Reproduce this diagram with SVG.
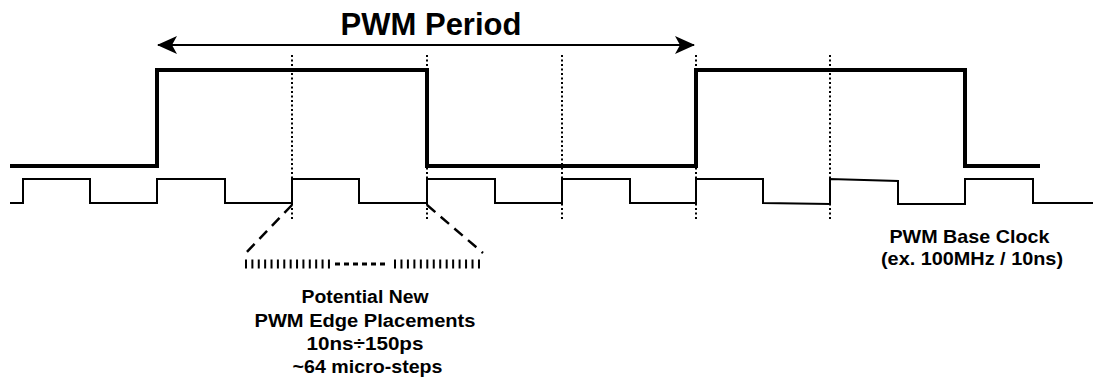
<svg xmlns="http://www.w3.org/2000/svg" width="1093" height="379" viewBox="0 0 1093 379">
<style>
.txt{font-family:"Liberation Sans",Arial,sans-serif;font-weight:bold;fill:#000;text-anchor:middle}
.dot{stroke:#000;stroke-width:2;stroke-dasharray:2 2.5;fill:none}
.dash{stroke:#000;stroke-width:2.5;stroke-dasharray:11 7;fill:none}
</style>
<defs>
<marker id="ah" markerUnits="userSpaceOnUse" viewBox="0 0 20 20" refX="19" refY="10" markerWidth="20" markerHeight="20" orient="auto-start-reverse">
<path d="M0,1 L20,10 L0,19 L5,10 Z" fill="#000"/>
</marker>
</defs>
<g id="title">
<text class="txt" x="431" y="35" font-size="31">PWM Period</text>
</g>
<g id="connectors">
<line x1="158" y1="45" x2="694" y2="45" stroke="#000" stroke-width="2" marker-start="url(#ah)" marker-end="url(#ah)"/>
<line class="dot" x1="292" y1="55" x2="292" y2="219"/>
<line class="dot" x1="427" y1="55" x2="427" y2="219"/>
<line class="dot" x1="562" y1="55" x2="562" y2="221"/>
<line class="dot" x1="696" y1="55" x2="696" y2="221"/>
<line class="dot" x1="830" y1="55" x2="830" y2="221"/>
<line class="dash" x1="292" y1="205" x2="243" y2="256"/>
<line class="dash" x1="427" y1="205" x2="483" y2="253"/>
</g>
<g id="pwm-signal">
<path d="M10,166 H157 V70 H427 V166 H696 V70 H965 V166 H1040" fill="none" stroke="#000" stroke-width="4"/>
</g>
<g id="base-clock">
<path d="M10,203 H23 V179 H90 V203 H157 V179 H225 V203 H292 V179 H359 V203 H427 V179 H495 V203 H562 V179 H630 V203 H696 V179 H763 V203 L830,204 V179 L898,181 V204 H965 V179 H1033 V203 H1093" fill="none" stroke="#000" stroke-width="2"/>
</g>
<g id="micro-steps">
<line x1="245" y1="264" x2="331" y2="264" stroke="#000" stroke-width="9" stroke-dasharray="2 4.38"/>
<line x1="335" y1="264" x2="389" y2="264" stroke="#000" stroke-width="3" stroke-dasharray="5 4"/>
<line x1="394" y1="264" x2="480" y2="264" stroke="#000" stroke-width="9" stroke-dasharray="2 4.46"/>
</g>
<g id="edge-label">
<text class="txt" font-size="18">
<tspan x="367.5" y="303" textLength="127" lengthAdjust="spacingAndGlyphs">Potential New</tspan>
<tspan x="367.5" y="326.5" textLength="221" lengthAdjust="spacingAndGlyphs">PWM Edge Placements</tspan>
<tspan x="367.5" y="350" textLength="117" lengthAdjust="spacingAndGlyphs">10ns÷150ps</tspan>
<tspan x="367.5" y="373" textLength="150" lengthAdjust="spacingAndGlyphs">~64 micro-steps</tspan>
</text>
</g>
<g id="clock-label">
<text class="txt" font-size="18.5">
<tspan x="972" y="242.5" textLength="160" lengthAdjust="spacingAndGlyphs">PWM Base Clock</tspan>
<tspan x="972" y="265" textLength="182" lengthAdjust="spacingAndGlyphs">(ex. 100MHz / 10ns)</tspan>
</text>
</g>
</svg>
